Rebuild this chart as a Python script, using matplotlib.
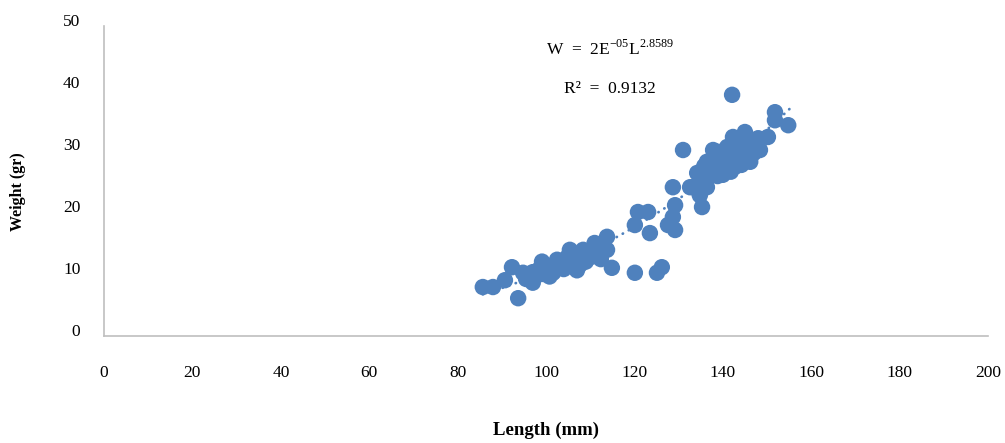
import numpy as np
import matplotlib
matplotlib.use("Agg")
import matplotlib.pyplot as plt
import matplotlib.transforms as mtransforms

plt.rcParams["font.family"] = ["Liberation Serif", "DejaVu Serif"]

# Length (mm) and weight (gr)
length = [
    85.7, 88.0, 90.7, 92.3, 93.7, 94.8, 96.0, 97.0, 97.0, 98.0,
    99.1, 99.5, 100.2, 101.6, 102.5, 103.5, 104.8, 105.4, 106.0, 107.0,
    107.7, 108.4, 109.0, 110.0, 111.0, 112.0, 112.9, 113.8, 113.8, 114.9,
    95.5, 98.5, 100.8, 103.0, 105.8, 106.8, 108.8, 110.6, 112.4, 104.0,
    120.1, 125.1, 126.2,
    120.1, 120.8, 123.1, 123.5, 127.6, 128.7, 129.2, 129.2, 128.7, 131.0,
    132.6, 133.3, 134.2, 134.8, 135.3, 135.5, 136.4, 136.4, 137.0, 139.0,
    139.8, 140.0, 141.0, 142.1, 142.3, 142.8, 143.4, 143.9, 145.0, 145.0,
    146.2, 148.0, 148.4, 150.2, 151.8, 151.8, 154.8, 142.1, 138.0, 144.0,
    137.5, 138.5, 139.5, 140.5, 141.5, 143.0, 144.5, 146.0, 147.0, 136.0,
    138.8, 140.8, 142.6, 144.2, 145.6, 141.8, 139.2, 143.6, 135.8, 137.8,
]
weight = [
    7.9, 7.9, 9.0, 11.1, 6.1, 10.2, 9.5, 10.3, 8.6, 9.8,
    12.0, 10.0, 10.6, 10.2, 12.3, 11.0, 12.7, 13.9, 11.5, 10.6,
    11.5, 13.9, 12.0, 12.7, 15.0, 13.5, 15.0, 16.0, 13.9, 11.0,
    9.2, 10.8, 9.6, 11.8, 12.2, 11.0, 12.8, 13.6, 12.4, 10.8,
    10.2, 10.2, 11.1,
    17.9, 20.0, 20.0, 16.6, 17.9, 19.2, 17.1, 21.1, 24.0, 30.0,
    24.0, 24.0, 26.3, 22.7, 20.8, 25.2, 28.1, 24.0, 26.0, 29.7,
    27.9, 26.0, 30.5, 29.2, 32.1, 27.3, 31.6, 30.0, 32.9, 28.9,
    28.1, 31.9, 30.0, 32.1, 36.1, 34.8, 34.0, 38.9, 27.0, 29.0,
    27.2, 28.8, 26.8, 29.0, 28.0, 29.8, 30.8, 30.2, 29.5, 25.0,
    25.8, 27.5, 30.6, 27.6, 31.0, 26.5, 28.4, 28.6, 27.4, 30.0,
]

# power trend reported on the chart
coef_a = 2e-05
coef_b = 2.8589
r_squared = 0.9132

blue = "#4f81bd"

fig = plt.figure(figsize=(10.05, 4.43), dpi=100)
ax = fig.add_axes([0.1035, 0.2415, 0.8796, 0.6998])

ax.scatter(length, weight, s=140, color=blue, edgecolors="none", zorder=2)

trend_x = np.linspace(min(length), max(length) + 0.5, 200)
trend_y = coef_a * trend_x ** coef_b
ax.plot(trend_x, trend_y, color=blue, linewidth=2.0,
        linestyle=(0, (0.1, 2.4)), dash_capstyle="round", zorder=3)

ax.text(114.5, 46.3, r"W  =  2E$^{\mathregular{-05}}$L$^{\mathregular{%s}}$" % coef_b,
        ha="center", va="center", fontsize=12.5)
ax.text(114.5, 39.8, "R²  =  %s" % r_squared, ha="center", va="center",
        fontsize=12.5)

ax.set_xlim(0, 200)
ax.set_ylim(0, 50)
ax.set_xticks(range(0, 201, 20))
ax.set_yticks(range(0, 51, 10))
ax.tick_params(length=0, labelsize=12.5)
ax.tick_params(axis="x", pad=21)
ax.tick_params(axis="y", pad=17)
offset = mtransforms.ScaledTranslation(0, 6 / 100, fig.dpi_scale_trans)
for lbl in ax.get_yticklabels():
    lbl.set_transform(lbl.get_transform() + offset)

for side in ["top", "right"]:
    ax.spines[side].set_visible(False)
for side in ["left", "bottom"]:
    ax.spines[side].set_color("#bfbfbf")
    ax.spines[side].set_linewidth(1.2)

ax.set_xlabel("Length (mm)", fontsize=13.5, fontweight="bold")
ax.set_ylabel("Weight (gr)", fontsize=11.5, fontweight="bold")
ax.xaxis.set_label_coords(0.5, -0.275)
ax.yaxis.set_label_coords(-0.088, 0.465)

fig.savefig("out.png", dpi=100)
